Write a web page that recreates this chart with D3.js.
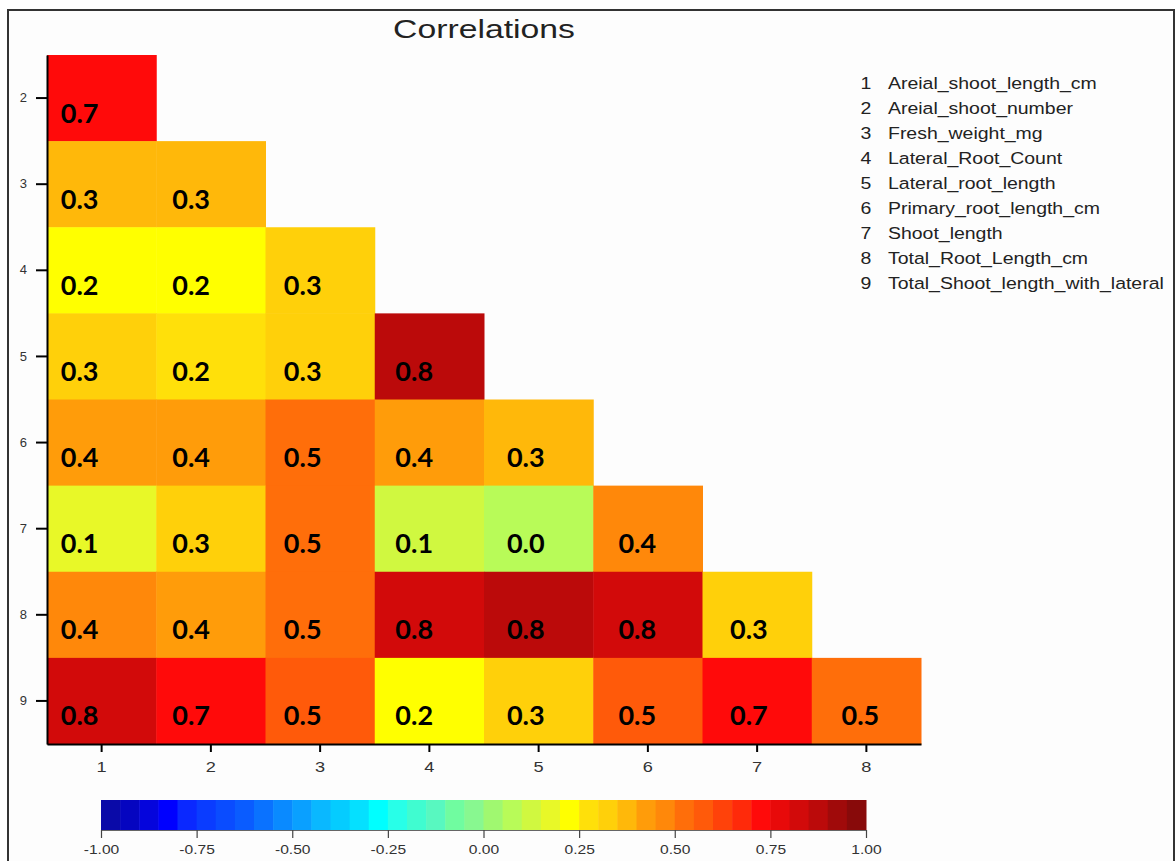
<!DOCTYPE html>
<html>
<head>
<meta charset="utf-8">
<script src="https://cdn.jsdelivr.net/npm/d3@7"></script>
<style>
  body { margin: 0; background: #fff; }
  svg { display: block; }
</style>
</head>
<body>
<svg id="chart" width="1176" height="861"></svg>
<script>
// variables on each axis (lower triangle of the correlation matrix)
var rowVars = [2, 3, 4, 5, 6, 7, 8, 9];
var colVars = [1, 2, 3, 4, 5, 6, 7, 8];

// correlation values, one array per row (row 2 .. row 9)
var corrRow2 = [0.72];
var corrRow3 = [0.37, 0.37];
var corrRow4 = [0.22, 0.22, 0.32];
var corrRow5 = [0.32, 0.27, 0.32, 0.87];
var corrRow6 = [0.42, 0.42, 0.52, 0.42, 0.37];
var corrRow7 = [0.17, 0.32, 0.52, 0.12, 0.07, 0.47];
var corrRow8 = [0.47, 0.42, 0.52, 0.82, 0.87, 0.82, 0.32];
var corrRow9 = [0.82, 0.72, 0.57, 0.22, 0.32, 0.57, 0.72, 0.52];
var corrRows = [corrRow2, corrRow3, corrRow4, corrRow5, corrRow6, corrRow7, corrRow8, corrRow9];

var varNames = ["Areial_shoot_length_cm", "Areial_shoot_number", "Fresh_weight_mg",
    "Lateral_Root_Count", "Lateral_root_length", "Primary_root_length_cm",
    "Shoot_length", "Total_Root_Length_cm", "Total_Shoot_length_with_lateral"];

var barTicks = [-1, -0.75, -0.5, -0.25, 0, 0.25, 0.5, 0.75, 1];

// 40 step palette of the colour key
var palette = [
    "#0a0aa8", "#0505c0", "#0505dc", "#0000ff", "#0a28ff", "#0a3cff", "#0a4cff", "#0a5cff", "#0a72ff", "#0a8aff",
    "#0aa0ff", "#0ab8ff", "#05ccff", "#05e0ff", "#00ffff", "#28ffe8", "#40fcd0", "#58f8c0", "#70fca0", "#88f890",
    "#a0f870", "#b8fb58", "#d0f840", "#e8f828", "#ffff00", "#ffe00a", "#ffd00a", "#ffb80a", "#ff9c0a", "#ff880a",
    "#ff6e0a", "#ff5a0a", "#ff420a", "#ff2a0a", "#ff0a0a", "#e80a0a", "#d20a0a", "#bb0a0a", "#a00a0a", "#880a0a"
];

var svg = d3.select("#chart");
var sans = "'Liberation Sans', Arial, sans-serif";

var cells = [];
corrRows.forEach(function(vals, i){
    vals.forEach(function(v, j){
        cells.push({row: rowVars[i], col: colVars[j], value: v});
    });
});

var x = d3.scaleBand().domain(colVars).range([47, 921]);
var y = d3.scaleBand().domain(rowVars).range([55, 744]);
var color = d3.scaleQuantize().domain([-1, 1]).range(palette);

// frame
svg.append("rect")
    .attr("x", 8).attr("y", 10)
    .attr("width", 1166).attr("height", 900)
    .attr("fill", "#fdfdfd")
    .attr("stroke", "#333")
    .attr("stroke-width", 2);

svg.append("text")
    .attr("transform", "translate(484,38) scale(1.35,1)")
    .attr("text-anchor", "middle")
    .attr("font-family", sans)
    .attr("font-size", 25)
    .attr("fill", "#222")
    .text("Correlations");

svg.append("g").selectAll("rect")
    .data(cells)
    .enter()
    .append("rect")
    .attr("x", function(d){ return x(d.col); })
    .attr("y", function(d){ return y(d.row); })
    .attr("width", x.bandwidth() + 0.5)
    .attr("height", y.bandwidth() + 0.5)
    .attr("fill", function(d){ return color(d.value); });

// labels show the value cut to one decimal
svg.append("g").selectAll("text")
    .data(cells)
    .enter()
    .append("text")
    .attr("x", function(d){ return x(d.col) + x.bandwidth() / 2 - (22 - 16 * (d.col - 1) / 7); })
    .attr("y", function(d){ return y(d.row) + y.bandwidth() / 2 + 15; })
    .attr("dy", "0.35em")
    .attr("text-anchor", "middle")
    .attr("font-family", "Lato, 'Open Sans', sans-serif")
    .attr("font-weight", "bold")
    .attr("font-size", 27)
    .attr("fill", "#000")
    .text(function(d){ return (Math.floor(d.value * 10 + 1e-9) / 10).toFixed(1); });

var yAxis = svg.append("g")
    .attr("transform", "translate(47,0)")
    .call(d3.axisLeft(y).tickSize(11).tickPadding(9).tickSizeOuter(0));
yAxis.select(".domain").attr("stroke", "#000").attr("stroke-width", 2);
yAxis.selectAll(".tick line").attr("stroke", "#000").attr("stroke-width", 2);
yAxis.selectAll(".tick text").attr("font-family", sans).attr("font-size", 13).attr("fill", "#333");

var xAxis = svg.append("g")
    .attr("transform", "translate(0,744)")
    .call(d3.axisBottom(x).tickSize(8).tickPadding(10).tickSizeOuter(0));
xAxis.select(".domain").attr("stroke", "#000").attr("stroke-width", 2);
xAxis.selectAll(".tick line").attr("stroke", "#000").attr("stroke-width", 2);
xAxis.selectAll(".tick text")
    .attr("font-family", sans).attr("font-size", 14).attr("fill", "#333")
    .attr("transform", "scale(1.3,1)");

// legend of variable names
var legendY = d3.scalePoint().domain(d3.range(varNames.length)).range([89, 289]);
var legend = svg.append("g").selectAll("g")
    .data(varNames)
    .enter()
    .append("g");
legend.append("text")
    .attr("transform", function(d, i){ return "translate(866," + legendY(i) + ") scale(1.18,1)"; })
    .attr("text-anchor", "middle")
    .attr("font-family", sans).attr("font-size", 16.5).attr("fill", "#222")
    .text(function(d, i){ return i + 1; });
legend.append("text")
    .attr("transform", function(d, i){ return "translate(888," + legendY(i) + ") scale(1.18,1)"; })
    .attr("font-family", sans).attr("font-size", 16.5).attr("fill", "#222")
    .text(function(d){ return d; });

// colour key
var cb = d3.scaleLinear().domain([-1, 1]).range([101, 866]);
var step = 2 / palette.length;
svg.append("g").selectAll("rect")
    .data(palette)
    .enter()
    .append("rect")
    .attr("x", function(d, i){ return cb(-1 + i * step); })
    .attr("y", 800)
    .attr("width", cb(-1 + step) - cb(-1) + 0.5)
    .attr("height", 30)
    .attr("fill", function(d){ return d; });

var cAxis = svg.append("g")
    .attr("transform", "translate(0,830)")
    .call(d3.axisBottom(cb).tickValues(barTicks).tickSize(8).tickPadding(7).tickSizeOuter(0)
        .tickFormat(function(d){ return d.toFixed(2); }));
cAxis.select(".domain").attr("stroke", "#666").attr("stroke-width", 1);
cAxis.selectAll(".tick line").attr("stroke", "#444").attr("stroke-width", 1.2);
cAxis.selectAll(".tick text")
    .attr("font-family", sans).attr("font-size", 12).attr("fill", "#333")
    .attr("transform", "scale(1.3,1)");
</script>
</body>
</html>
